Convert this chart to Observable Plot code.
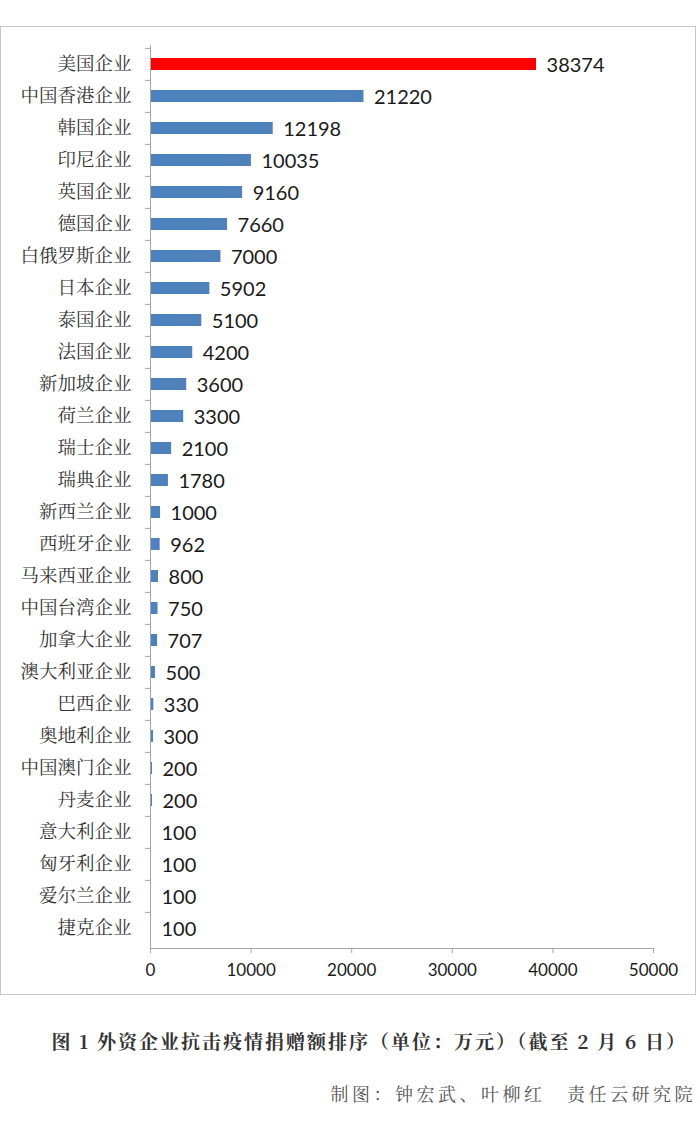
<!DOCTYPE html>
<html>
<head>
<meta charset="utf-8">
<script src="https://cdn.jsdelivr.net/npm/d3@7"></script>
<script src="https://cdn.jsdelivr.net/npm/@observablehq/plot@0.6"></script>
<style>
  html, body { margin: 0; padding: 0; background: #fff; }
  #wrap { position: relative; width: 700px; }
  #border { position: absolute; left: 0; top: 26px; width: 694px; height: 967px; border: 1px solid #c8c8c8; pointer-events: none; }
  #caption { margin-top: 29px; text-align: right; padding-right: 13px; font-family: "Noto Serif CJK SC", "Noto Sans CJK SC", serif; font-weight: bold; font-size: 19px; line-height: 24px; color: #333; letter-spacing: 2px; white-space: nowrap; }
  #credit { margin-top: 28px; text-align: right; padding-right: 4px; font-family: "Noto Serif CJK SC", "Noto Sans CJK SC", serif; font-size: 18px; line-height: 24px; color: #555; letter-spacing: 3.5px; white-space: nowrap; }
</style>
</head>
<body>
<div id="wrap">
  <div id="chart"></div>
  <div id="border"></div>
</div>
<div id="caption">图 1 外资企业抗击疫情捐赠额排序（单位：万元）（截至 2 月 6 日）</div>
<div id="credit">制图：钟宏武、叶柳红　责任云研究院</div>
<script>
const categories = ["美国企业","中国香港企业","韩国企业","印尼企业","英国企业","德国企业","白俄罗斯企业","日本企业","泰国企业","法国企业","新加坡企业","荷兰企业","瑞士企业","瑞典企业","新西兰企业","西班牙企业","马来西亚企业","中国台湾企业","加拿大企业","澳大利亚企业","巴西企业","奥地利企业","中国澳门企业","丹麦企业","意大利企业","匈牙利企业","爱尔兰企业","捷克企业"];
const values = [38374,21220,12198,10035,9160,7660,7000,5902,5100,4200,3600,3300,2100,1780,1000,962,800,750,707,500,330,300,200,200,100,100,100,100];
const xTicks = [0,10000,20000,30000,40000,50000];
const highlight = "美国企业";

const data = categories.map((name, i) => ({name, value: values[i]}));

const width = 700, height = 1000;
const marginTop = 45, marginBottom = 52, marginLeft = 150, marginRight = 47;
const step = (height - marginTop - marginBottom) / categories.length;
const axisColor = "#a6a6a6";

const chart = Plot.plot({
  width, height, marginTop, marginBottom, marginLeft, marginRight,
  style: {background: "transparent"},
  x: {domain: [0, 50000], ticks: xTicks},
  y: {domain: categories, paddingInner: 0.62, paddingOuter: 0.31},
  marks: [
    Plot.barX(data, {
      y: "name", x: "value",
      fill: d => d.name === highlight ? "#ff0000" : "#4f81bd"
    }),
    Plot.text(data, {
      y: "name", x: "value", text: d => String(d.value),
      textAnchor: "start", dx: 10, dy: 1,
      fontFamily: "Lato, 'Open Sans', sans-serif", fontSize: 20, fill: "#1a1a1a"
    }),
    Plot.frame({anchor: "left", stroke: axisColor}),
    Plot.frame({anchor: "bottom", stroke: axisColor}),
    Plot.axisY({
      tickSize: 0, tickPadding: 19, label: null,
      fontFamily: "'Noto Serif CJK SC', 'Noto Sans CJK SC', serif",
      fontSize: 18.5, fill: "#333", letterSpacing: "1px"
    }),
    Plot.axisY({
      tickSize: 5, text: null, label: null, stroke: axisColor, dy: -step / 2
    }),
    Plot.axisX({
      ticks: xTicks, tickSize: 5, tickPadding: 10, label: null,
      tickFormat: d => String(d), stroke: axisColor,
      fontFamily: "Lato, 'Open Sans', sans-serif", fontSize: 17, fill: "#1a1a1a"
    })
  ]
});
document.getElementById("chart").appendChild(chart);
</script>
</body>
</html>
